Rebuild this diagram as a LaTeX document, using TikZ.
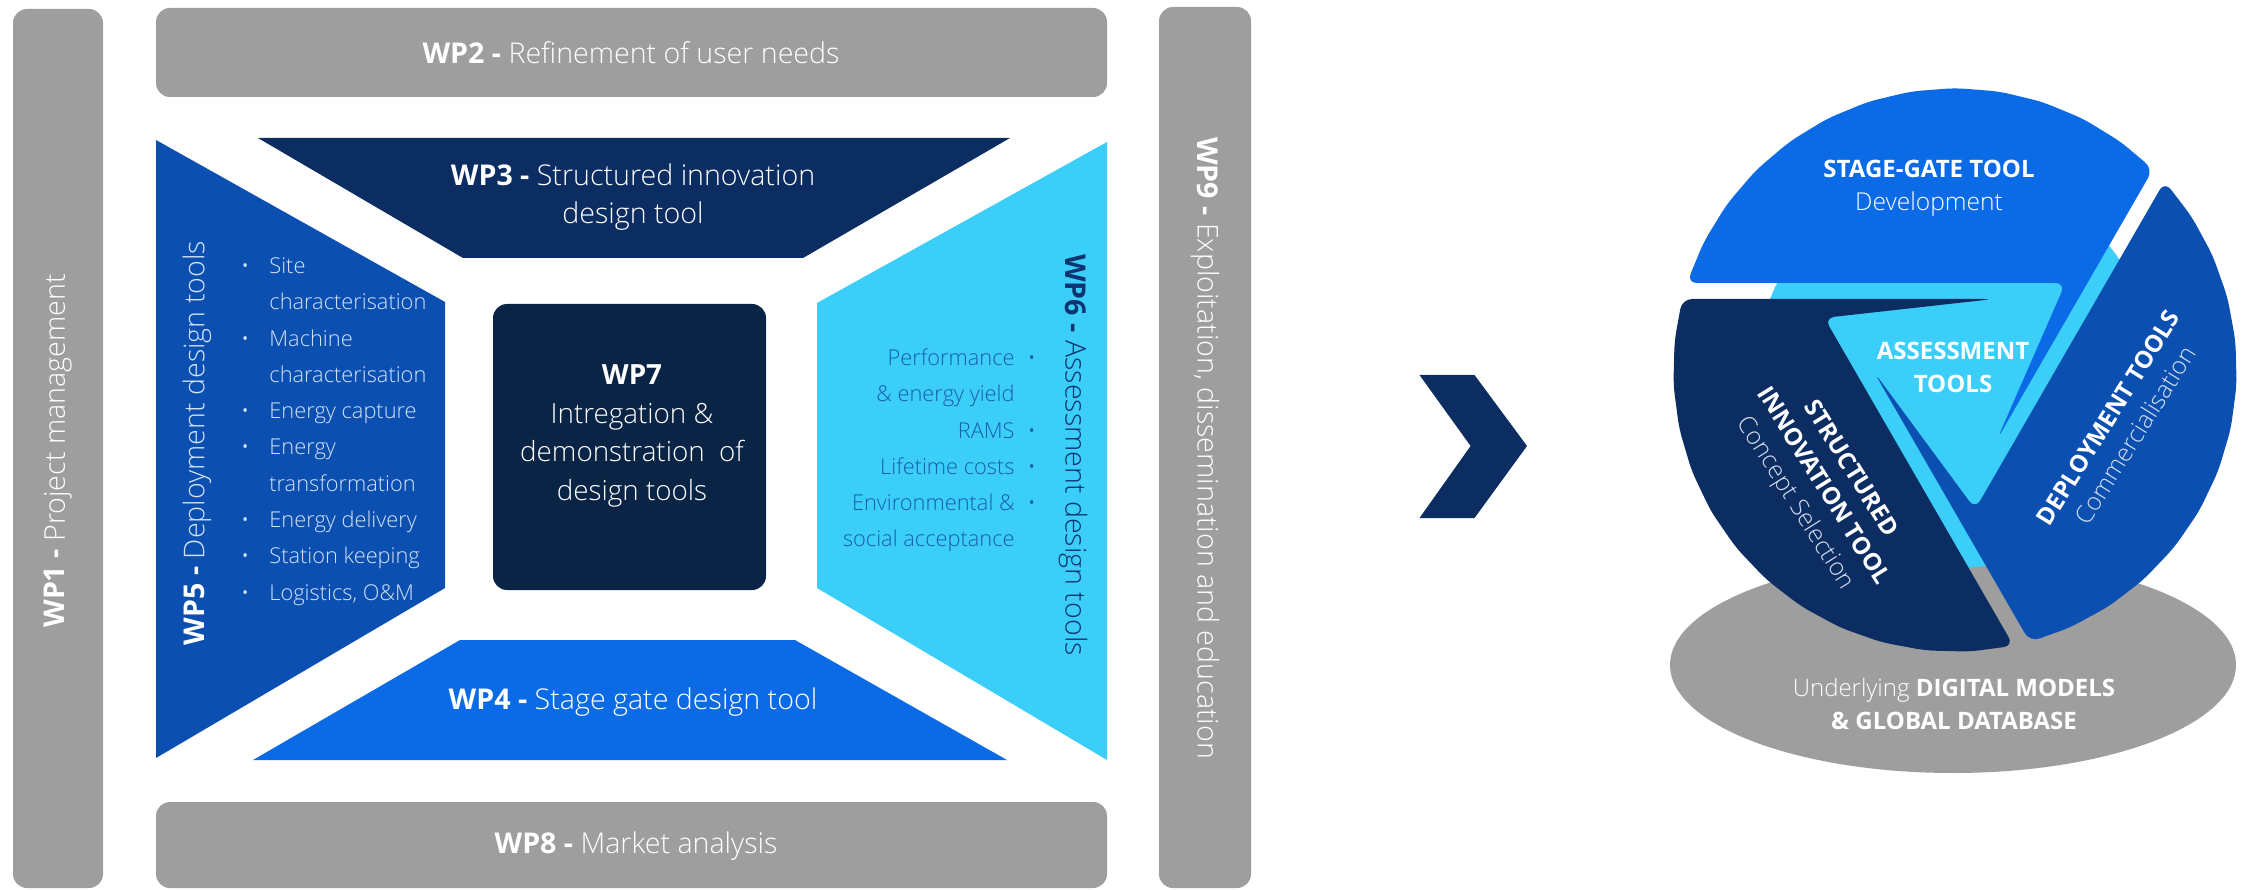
\documentclass[tikz,border=0pt]{standalone}
\usepackage{fontspec}
\setmainfont{Open Sans}[UprightFont=* Light, BoldFont=* Bold]
\definecolor{barg}{HTML}{9E9E9E}
\definecolor{navyA}{HTML}{0B2D62}
\definecolor{navyB}{HTML}{0A2446}
\definecolor{midb}{HTML}{0B50B0}
\definecolor{brightb}{HTML}{0B6BE6}
\definecolor{cyanb}{HTML}{3ACEF9}
\definecolor{paleb}{HTML}{D3E2FA}
\definecolor{wpsixtxt}{HTML}{1A5DAE}
\definecolor{wpsixttl}{HTML}{0D3370}
\definecolor{lighttxt}{HTML}{D5DEF0}
\begin{document}
\begin{tikzpicture}[x=1pt,y=1pt,yscale=-1,
  bar/.style={fill=barg, rounded corners=14pt},
  bartext/.style={text=white, inner sep=0pt, font=\fontsize{28.6}{33}\selectfont},
  wptext/.style={text=white, inner sep=0pt, align=center, font=\fontsize{28.6}{38}\selectfont},
  listtext/.style={inner sep=0pt, font=\fontsize{21.8}{36.3}\selectfont},
  rt/.style={text=white, inner sep=0pt, align=center, font=\fontsize{24}{32.5}\selectfont},
  blade/.style={rounded corners=10pt}]
\useasboundingbox (0,0) rectangle (2241,890);
\fill[white] (0,0) rectangle (2241,890);

% ---------- left diagram: grey frame bars
\fill[bar] (13,9) rectangle (103,888);
\fill[bar] (156,8) rectangle (1107,97);
\fill[bar] (156,802) rectangle (1107,888);
\fill[bar] (1159,7) rectangle (1251,888);

% ---------- inner shapes
\fill[midb] (156,140) -- (445,302) -- (445,588) -- (156,758) -- cycle;
\fill[navyA] (258,138) -- (1010,138) -- (803,258) -- (463,258) -- cycle;
\fill[cyanb] (1107,142) -- (817,303) -- (817,588) -- (1107,760) -- cycle;
\fill[brightb] (460,640) -- (795,640) -- (1007,760) -- (253,760) -- cycle;
\fill[navyB, rounded corners=14pt] (493,304) rectangle (766,590);

% ---------- texts of left diagram
\node[bartext] (wp2) at (631,53) {\textbf{WP2 -} Refinement of user needs};
\node[bartext] (wp8) at (636,846) {\textbf{WP8 -} Market analysis};
\node[bartext, rotate=90] (wp1) at (58,451) {\textbf{WP1 -} Project management};
\node[bartext, rotate=-90] (wp9) at (1205,448) {\textbf{WP9 -} Exploitation, dissemination and education};
\node[wptext] (wp3) at (633,197) {\textbf{WP3 -} Structured innovation\\design tool};
\node[wptext] (wp4) at (633,702) {\textbf{WP4 -} Stage gate design tool};
\node[wptext, font=\fontsize{27.8}{38.5}\selectfont] (wp7) at (632,436) {\textbf{WP7}\\Intregation \&\\demonstration\ \ of\\design tools};
\node[bartext, rotate=90] (wp5) at (197,443) {\textbf{WP5 -} {\color{paleb}Deployment design tools}};
\node[bartext, rotate=-90] (wp6) at (1073,455) {{\color{wpsixttl}\textbf{WP6 -}} {\color{wpsixttl}Assessment design tools}};
\node[listtext, text=paleb, anchor=base west] (wp5list) at (241,273.5) {\begin{tabular}[t]{@{}l@{\hspace{20pt}}l@{}}
\textbullet & Site\\
 & characterisation\\
\textbullet & Machine\\
 & characterisation\\
\textbullet & Energy capture\\
\textbullet & Energy\\
 & transformation\\
\textbullet & Energy delivery\\
\textbullet & Station keeping\\
\textbullet & Logistics, O\&M
\end{tabular}};
\node[listtext, text=wpsixtxt, anchor=base east] (wp6list) at (1036,365.5) {\begin{tabular}[t]{@{}r@{\hspace{13pt}}l@{}}
Performance & \textbullet\\
\& energy yield & \\
RAMS & \textbullet\\
Lifetime costs & \textbullet\\
Environmental \& & \textbullet\\
social acceptance &
\end{tabular}};

% ---------- chevron
\fill[navyA] (1419.5,375) -- (1474.5,375) -- (1527,446) -- (1474.5,518) -- (1419.5,518) -- (1470.6,446) -- cycle;

% ---------- right diagram
\fill[barg] (1953,665) ellipse[x radius=283, y radius=108];
\fill[cyanb] (1955,370) circle[radius=198];
\fill[brightb, blade] (1686.8,283) -- (2065.5,283) -- (1997.2,439.2) -- (2153.1,169.2)
  \foreach \a in {-54,-63,...,-153} { -- ([shift={(1955,370)}]\a:282) } -- cycle;
\fill[navyA, blade] (1682.1,299) -- (1993.8,299) -- (1824.3,317.9) -- (2013.6,645.8)
  \foreach \a in {87,96,...,186} { -- ([shift={(1955,370)}]\a:282) } -- cycle;
\fill[midb, blade] (2164.6,181.3) -- (1975.2,509.3) -- (1874,372) -- (2029.8,641.9)
  \foreach \a in {66,57,...,-33} { -- ([shift={(1955,370)}]\a:282) } -- cycle;

\node[rt] (sg) at (1929,188.5) {\textbf{STAGE-GATE TOOL}\\{\fontsize{24.6}{32.5}\selectfont Development}};
\node[rt] (as) at (1953,367.5) {\textbf{ASSESSMENT}\\\textbf{TOOLS}};
\node[rt, rotate=-58] (si) at (1822,486.5) {\textbf{STRUCTURED}\\\textbf{INNOVATION TOOL}\\{\color{lighttxt}\fontsize{24.6}{32.5}\selectfont Concept Selection}};
\node[rt, rotate=58] (dp) at (2121.75,426.5) {\textbf{DEPLOYMENT TOOLS}\\{\color{lighttxt}\fontsize{24.6}{32.5}\selectfont Commercialisation}};
\node[rt] (db) at (1954,704) {Underlying \textbf{DIGITAL MODELS}\\\textbf{\& GLOBAL DATABASE}};
\end{tikzpicture}
\end{document}
